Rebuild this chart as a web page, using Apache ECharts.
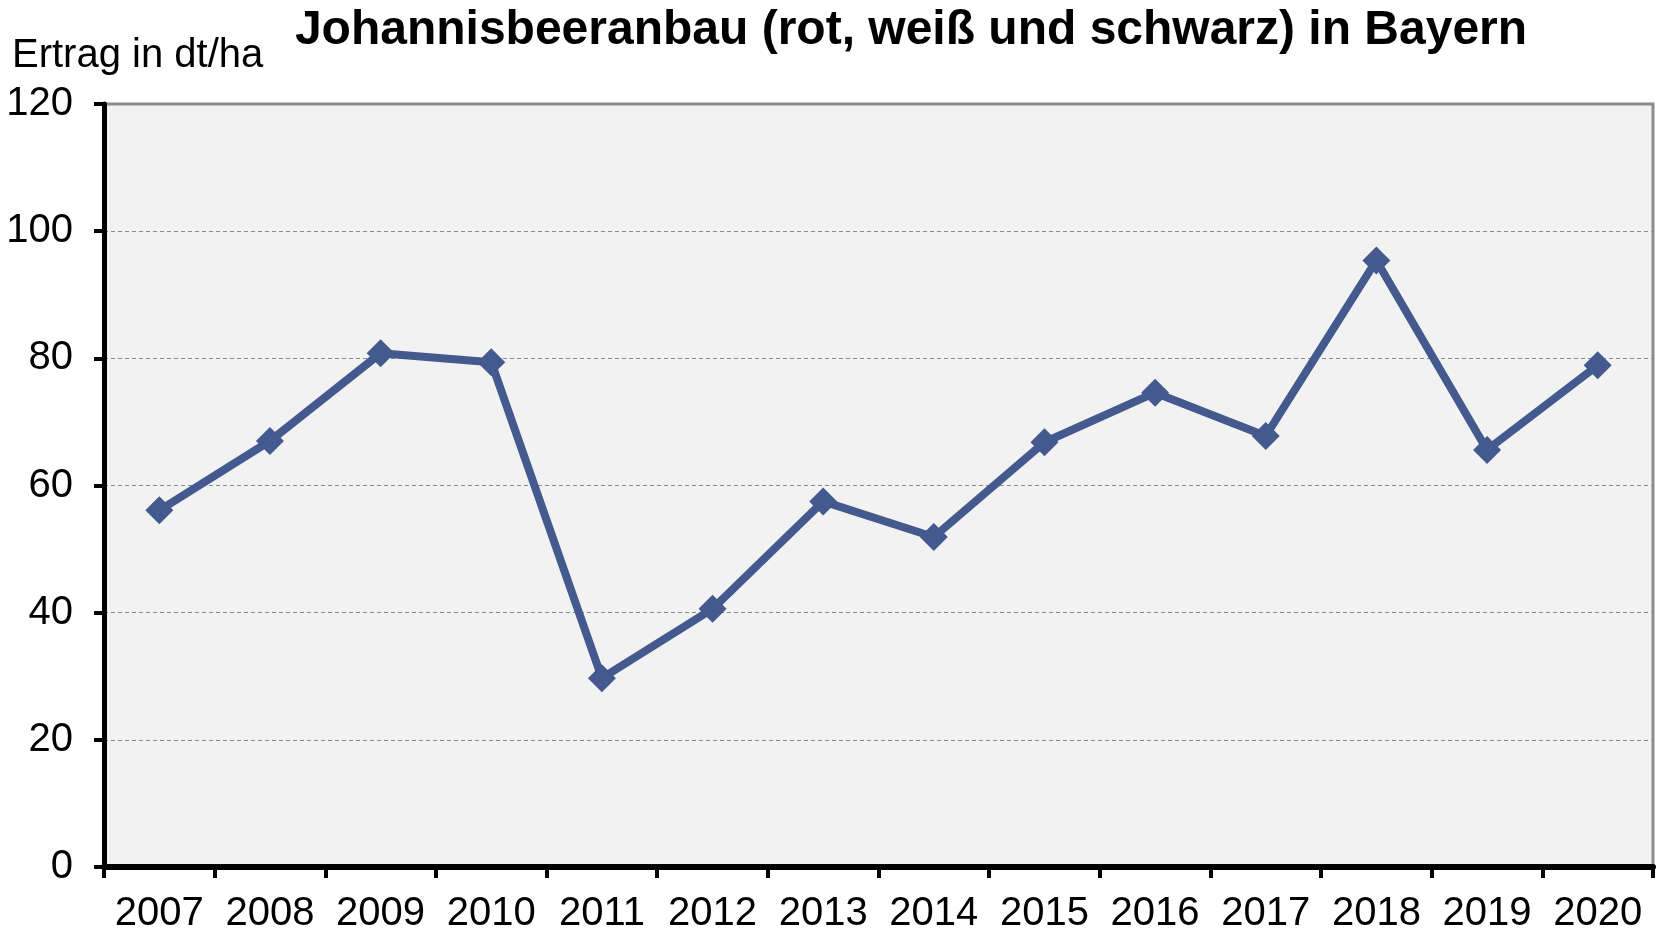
<!DOCTYPE html>
<html>
<head>
<meta charset="utf-8">
<title>Johannisbeeranbau in Bayern</title>
<script src="https://cdn.jsdelivr.net/npm/echarts@6/dist/echarts.min.js"></script>
<style>
  html, body { margin: 0; padding: 0; background: #fff; }
  #chart { width: 1664px; height: 935px; }
</style>
</head>
<body>
<div id="chart"></div>
<script>
// Ertrag in dt/ha
const years = ['2007', '2008', '2009', '2010', '2011', '2012', '2013',
  '2014', '2015', '2016', '2017', '2018', '2019', '2020']
const ertrag = [56.1, 67.0, 80.8, 79.4, 29.7, 40.6, 57.5,
  51.9, 66.8, 74.6, 67.8, 95.4, 65.6, 78.9]
const yTicks = [0, 20, 40, 60, 80, 100, 120]

const chart = echarts.init(document.getElementById('chart'))
const font = 'Liberation Sans, Arial, sans-serif'

chart.setOption({
  animation: false,
  title: [
    {
      text: 'Johannisbeeranbau (rot, weiß und schwarz) in Bayern',
      left: 906,
      textAlign: 'center',
      top: 2,
      textStyle: {
        fontFamily: font,
        fontSize: 48,
        fontWeight: 'bold',
        color: '#000'
      }
    },
    {
      text: 'Ertrag in dt/ha',
      left: 7,
      top: 31,
      textStyle: {
        fontFamily: font,
        fontSize: 40,
        fontWeight: 'normal',
        color: '#000'
      }
    }
  ],
  grid: {
    left: 104,
    right: 11,
    top: 104,
    bottom: 68,
    show: true,
    backgroundColor: '#f2f2f2',
    borderColor: '#8c8c8c',
    borderWidth: 3
  },
  xAxis: {
    type: 'category',
    data: years,
    boundaryGap: true,
    axisLine: {
      lineStyle: { color: '#000', width: 6 }
    },
    axisTick: {
      show: true,
      interval: 0,
      length: 11,
      lineStyle: { color: '#000', width: 4 }
    },
    axisLabel: {
      interval: 0,
      hideOverlap: false,
      color: '#000',
      fontFamily: font,
      fontSize: 40,
      margin: 27
    },
    splitLine: { show: false }
  },
  yAxis: {
    type: 'value',
    min: yTicks[0],
    max: yTicks[yTicks.length - 1],
    interval: 20,
    axisLine: {
      show: true,
      lineStyle: { color: '#000', width: 5 }
    },
    axisTick: {
      show: true,
      length: 10,
      lineStyle: { color: '#000', width: 4 }
    },
    axisLabel: {
      color: '#000',
      fontFamily: font,
      fontSize: 40,
      margin: 31
    },
    splitLine: {
      show: true,
      lineStyle: { color: '#8a8a8a', width: 1, type: [4, 3] }
    }
  },
  series: [
    {
      name: 'Ertrag',
      type: 'line',
      data: ertrag,
      symbol: 'diamond',
      symbolSize: 28,
      lineStyle: { color: '#44598e', width: 8 },
      itemStyle: { color: '#44598e' }
    }
  ]
})
</script>
</body>
</html>
